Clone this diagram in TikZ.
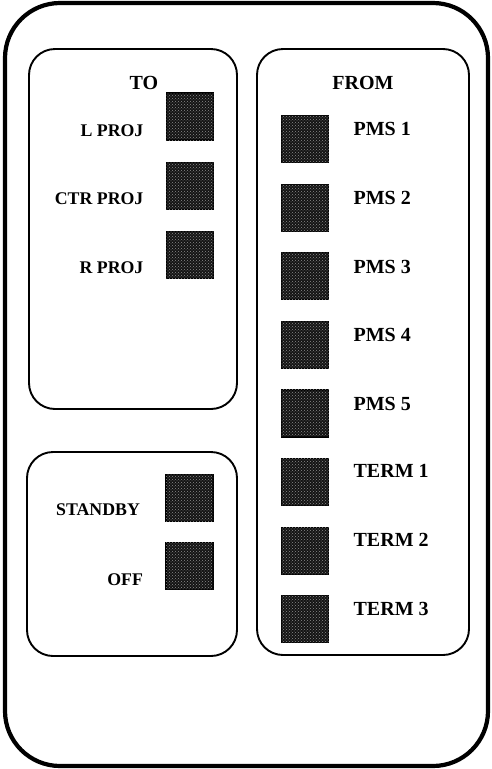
\documentclass[tikz,border=0pt]{standalone}
\usepackage{fontspec}
\setmainfont{Liberation Serif}
\usetikzlibrary{positioning, patterns}

\begin{document}
\begin{tikzpicture}[x=1pt, y=-1pt]
    \tikzstyle{casebox}=[draw, line width=4.2pt, rounded corners=55pt, rectangle, inner sep=0pt]
    \tikzstyle{panel}=[draw, line width=1.9pt, rounded corners=26pt, rectangle, inner sep=0pt]
    \tikzstyle{lamp}=[draw, line width=1.2pt, fill=black!92, minimum size=47pt, inner sep=0pt, rectangle,
        postaction={pattern=crosshatch dots, pattern color=black!45}]
    \tikzstyle{headtext}=[font=\fontsize{20}{22}\selectfont\bfseries]
    \tikzstyle{lefttext}=[font=\fontsize{17.8}{20}\selectfont\bfseries]
    \tikzstyle{righttext}=[font=\fontsize{20}{22}\selectfont\bfseries]

    \useasboundingbox (0,0) rectangle (492,769);

    % case and panels
    \node[casebox, minimum width=483pt, minimum height=763pt] (case) at (246.5,384.5) {};
    \node[panel, minimum width=208pt, minimum height=360pt] (topanel) at (133,229) {};
    \node[panel, minimum width=212pt, minimum height=606pt] (frompanel) at (363,352) {};
    \node[panel, minimum width=210pt, minimum height=204pt] (modepanel) at (132,554) {};

    \node[headtext, below=41pt of topanel.north, anchor=base, xshift=11pt] (tohead) {TO};
    \node[headtext, below=41pt of frompanel.north, anchor=base] (fromhead) {FROM};

    % TO lamps
    \node[lamp] (lproj) at (190,116.5) {};
    \node[lamp, below=21pt of lproj] (ctrproj) {};
    \node[lamp, below=21pt of ctrproj] (rproj) {};

    \node[lefttext, left=19pt of lproj.south west, anchor=base east, yshift=4pt] (lprojtext) {L PROJ};
    \node[lefttext, left=19pt of ctrproj.south west, anchor=base east, yshift=5pt] (ctrprojtext) {CTR PROJ};
    \node[lefttext, left=19pt of rproj.south west, anchor=base east, yshift=6pt] (rprojtext) {R PROJ};

    % mode lamps
    \node[lamp] (standby) at (189.5,498) {};
    \node[lamp, below=20pt of standby] (off) {};

    \node[lefttext, left=22pt of standby.south west, anchor=base east, yshift=7pt] (standbytext) {STANDBY};
    \node[lefttext, left=19pt of off.south west, anchor=base east, yshift=5pt] (offtext) {OFF};

    % FROM lamps
    \node[lamp] (pms1) at (305,139) {};
    \node[lamp, below=20.4pt of pms1] (pms2) {};
    \node[lamp, below=20.4pt of pms2] (pms3) {};
    \node[lamp, below=20.4pt of pms3] (pms4) {};
    \node[lamp, below=20.4pt of pms4] (pms5) {};
    \node[lamp, below=20.4pt of pms5] (term1) {};
    \node[lamp, below=20.4pt of term1] (term2) {};
    \node[lamp, below=20.4pt of term2] (term3) {};

    \node[righttext, right=21pt of pms1.north east, anchor=base west, yshift=-21pt] (pms1text) {PMS 1};
    \node[righttext, right=21pt of pms2.north east, anchor=base west, yshift=-21pt] (pms2text) {PMS 2};
    \node[righttext, right=21pt of pms3.north east, anchor=base west, yshift=-21pt] (pms3text) {PMS 3};
    \node[righttext, right=21pt of pms4.north east, anchor=base west, yshift=-21pt] (pms4text) {PMS 4};
    \node[righttext, right=21pt of pms5.north east, anchor=base west, yshift=-21pt] (pms5text) {PMS 5};
    \node[righttext, right=21pt of term1.north east, anchor=base west, yshift=-20pt] (term1text) {TERM 1};
    \node[righttext, right=21pt of term2.north east, anchor=base west, yshift=-20pt] (term2text) {TERM 2};
    \node[righttext, right=21pt of term3.north east, anchor=base west, yshift=-20pt] (term3text) {TERM 3};
\end{tikzpicture}
\end{document}
